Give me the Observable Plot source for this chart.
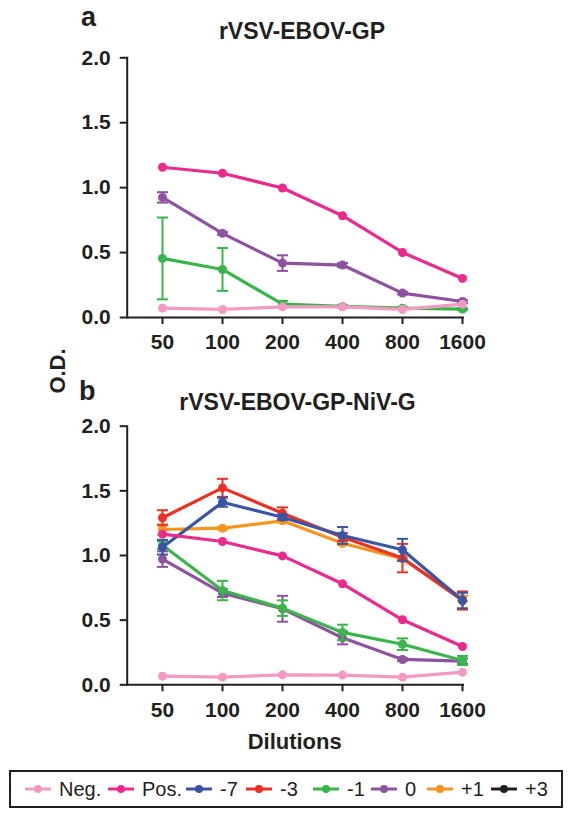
<!DOCTYPE html>
<html>
<head>
<meta charset="utf-8">
<script src="https://cdn.jsdelivr.net/npm/d3@7"></script>
<script src="https://cdn.jsdelivr.net/npm/@observablehq/plot@0.6"></script>
<style>
  html, body { margin: 0; padding: 0; background: #fff; }
  #root { position: relative; width: 574px; height: 818px; overflow: hidden; background: #fff;
          font-family: 'Liberation Sans', Arial, Helvetica, sans-serif; color: #231f20; }
  .abs { position: absolute; white-space: nowrap; }
  .panel { position: absolute; left: 0; }
</style>
</head>
<body>
<div id="root"></div>
<script>
// ---------------- data ----------------
const dilutions = [50, 100, 200, 400, 800, 1600];
const yTicks = [0, 0.5, 1.0, 1.5, 2.0];

const seriesNames  = ["Neg.", "Pos.", "-7", "-3", "-1", "0", "+1", "+3"];
const seriesColors = ["#f49ac2", "#ec2a8c", "#3a55a5", "#ec3024", "#39b54a", "#8d52a0", "#f7941d", "#231f20"];

// Panel a: rVSV-EBOV-GP
const negA      = [0.072, 0.062, 0.082, 0.082, 0.062, 0.103];
const posA      = [1.157, 1.111, 0.997, 0.784, 0.501, 0.301];
const zeroA     = [0.925, 0.648, 0.419, 0.404, 0.188, 0.123];
const zeroAErr  = [0.040, 0.010, 0.060, 0.015, 0.010, 0.010];
const m1A       = [0.455, 0.370, 0.103, 0.085, 0.072, 0.064];
const m1AErr    = [0.315, 0.165, 0.025, 0.010, 0.008, 0.008];

// Panel b: rVSV-EBOV-GP-NiV-G
const negB      = [0.067, 0.059, 0.077, 0.075, 0.059, 0.098];
const posB      = [1.165, 1.108, 0.997, 0.781, 0.503, 0.296];
const p1B       = [1.201, 1.211, 1.268, 1.095, 0.975, 0.668];
const p1BErr    = [0.040, 0.010, 0.012, 0.015, 0.010, 0.020];
const zeroB     = [0.972, 0.709, 0.588, 0.363, 0.196, 0.183];
const zeroBErr  = [0.060, 0.030, 0.100, 0.050, 0.010, 0.020];
const m1B       = [1.080, 0.729, 0.593, 0.405, 0.314, 0.188];
const m1BErr    = [0.030, 0.075, 0.060, 0.060, 0.045, 0.035];
const m3B       = [1.292, 1.523, 1.327, 1.142, 0.980, 0.652];
const m3BErr    = [0.058, 0.070, 0.045, 0.030, 0.110, 0.070];
const m7B       = [1.064, 1.412, 1.296, 1.155, 1.044, 0.652];
const m7BErr    = [0.057, 0.035, 0.020, 0.065, 0.085, 0.060];

// ---------------- helpers ----------------
const colorOf = name => seriesColors[seriesNames.indexOf(name)];
function rows(values, errs) {
  return dilutions.map((d, i) => {
    const e = errs ? errs[i] : 0;
    return { dilution: d, value: values[i], lo: values[i] - e, hi: values[i] + e, err: e };
  });
}
const capSymbol = {
  draw(context, size) {
    const h = Math.sqrt(size / Math.PI);
    context.moveTo(-h, 0);
    context.lineTo(h, 0);
  }
};
function seriesMarks(name, values, errs) {
  const c = colorOf(name);
  const data = rows(values, errs);
  const marks = [
    Plot.line(data, { x: "dilution", y: "value", stroke: c, strokeWidth: 3.2 })
  ];
  if (errs) {
    const withErr = data.filter(d => d.err > 0);
    marks.push(
      Plot.ruleX(withErr, { x: "dilution", y1: "lo", y2: "hi", stroke: c, strokeWidth: 2 }),
      Plot.dot(withErr, { x: "dilution", y: "lo", symbol: capSymbol, r: 5.5, stroke: c, fill: "none", strokeWidth: 2 }),
      Plot.dot(withErr, { x: "dilution", y: "hi", symbol: capSymbol, r: 5.5, stroke: c, fill: "none", strokeWidth: 2 })
    );
  }
  marks.push(Plot.dot(data, { x: "dilution", y: "value", r: 4.5, fill: c, stroke: "none" }));
  return marks;
}

function panel(series, top, height, marginTop, marginBottom) {
  const chart = Plot.plot({
    width: 574,
    height,
    marginTop,
    marginBottom,
    marginLeft: 126.7,
    marginRight: 110,
    style: {
      fontFamily: "'Liberation Sans', Arial, Helvetica, sans-serif",
      fontSize: "21px",
      fontWeight: "bold",
      color: "#231f20",
      background: "transparent",
      overflow: "visible"
    },
    x: { type: "point", domain: dilutions, padding: 0.265, align: 0.943 },
    y: { domain: [0, 2] },
    marks: [
      Plot.axisY({ ticks: yTicks, tickFormat: d3.format(".1f"), tickSize: 7, tickPadding: 9.5, strokeWidth: 2, label: null }),
      Plot.axisX({ ticks: dilutions, tickFormat: d => String(d), tickSize: 7, tickPadding: 10, strokeWidth: 2, label: null }),
      Plot.frame({ anchor: "left", strokeWidth: 2, stroke: "#231f20" }),
      Plot.ruleY([0], { strokeWidth: 2, stroke: "#231f20" }),
      ...series.flatMap(s => seriesMarks(...s))
    ]
  });
  chart.classList.add("panel");
  chart.style.top = top + "px";
  return chart;
}

const root = document.getElementById("root");

function label(text, css) {
  const el = document.createElement("div");
  el.className = "abs";
  el.textContent = text;
  Object.assign(el.style, css);
  root.appendChild(el);
  return el;
}

// Panel a
root.appendChild(panel([
  ["0", zeroA, zeroAErr],
  ["-1", m1A, m1AErr],
  ["Pos.", posA, null],
  ["Neg.", negA, null]
], 0, 360, 57.3, 43));

// Panel b
root.appendChild(panel([
  ["+1", p1B, p1BErr],
  ["0", zeroB, zeroBErr],
  ["-1", m1B, m1BErr],
  ["-3", m3B, m3BErr],
  ["-7", m7B, m7BErr],
  ["Pos.", posB, null],
  ["Neg.", negB, null]
], 370, 390, 55.7, 75.7));

// Text: panel letters and titles (positioned by baseline)
function textAt(text, x, baseline, size, anchor, weight) {
  const el = label(text, {
    left: x + "px", top: baseline + "px", fontSize: size + "px",
    fontWeight: weight || "bold", lineHeight: "0px", height: "0px"
  });
  el.style.transform = anchor === "middle" ? "translate(-50%, -0.28em)" : "translate(0, -0.28em)";
  return el;
}
textAt("a", 81, 25, 27, "start");
textAt("rVSV-EBOV-GP", 302, 36.7, 23, "middle");
textAt("b", 79, 399.3, 27, "start");
textAt("rVSV-EBOV-GP-NiV-G", 297.5, 407.7, 23, "middle");
textAt("Dilutions", 294.7, 748.3, 22, "middle");

// O.D. rotated label
label("O.D.", {
  left: "58px", top: "371px", fontSize: "22px", fontWeight: "bold", lineHeight: "22px",
  transform: "translate(-50%, -50%) rotate(-90deg)"
});

// Legend
const legend = document.createElement("div");
Object.assign(legend.style, {
  position: "absolute", left: "9.3px", top: "770px", width: "550px", height: "34px",
  border: "2px solid #231f20", boxSizing: "content-box"
});
root.appendChild(legend);
const legendLineStarts = [25, 108, 186, 246, 313, 371, 427, 491];
seriesNames.forEach((name, i) => {
  const x0 = legendLineStarts[i] - 11.3;
  const sw = document.createElementNS("http://www.w3.org/2000/svg", "svg");
  sw.setAttribute("width", 26); sw.setAttribute("height", 12);
  Object.assign(sw.style, { position: "absolute", left: x0 + "px", top: "11px" });
  sw.innerHTML = `<line x1="0" x2="26" y1="6" y2="6" stroke="${seriesColors[i]}" stroke-width="3"/>` +
                 `<circle cx="13" cy="6" r="4" fill="${seriesColors[i]}"/>`;
  legend.appendChild(sw);
  const t = document.createElement("div");
  t.textContent = name;
  Object.assign(t.style, {
    position: "absolute", left: (x0 + 34) + "px", top: "6px", fontSize: "20px",
    lineHeight: "22px", fontWeight: "normal", whiteSpace: "nowrap"
  });
  legend.appendChild(t);
});
</script>
</body>
</html>
